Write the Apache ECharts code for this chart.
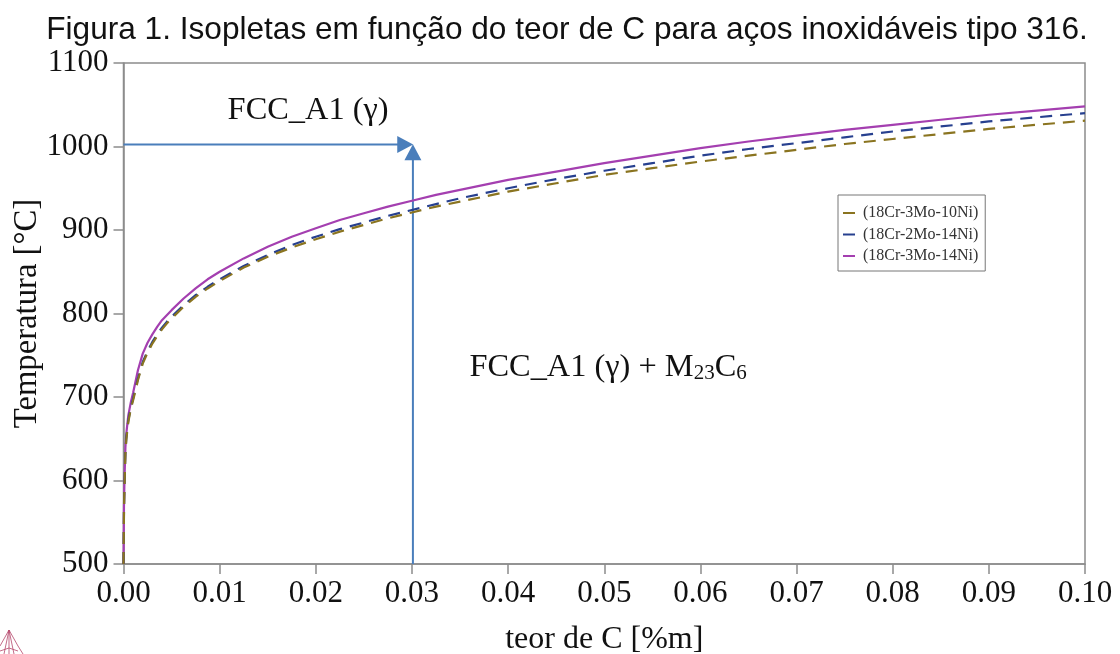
<!DOCTYPE html>
<html><head><meta charset="utf-8">
<style>html,body{margin:0;padding:0;background:#fff}#c{width:1120px;height:654px}</style>
<script src="https://cdn.jsdelivr.net/npm/echarts@6/dist/echarts.min.js"></script>
</head><body><div id="c"></div>
<script>
const carbon = [0,.00005,.0001,.0002,.0003,.0005,.00075,.001,.0015,.002,.0025,.003,.0035,.004,.0045,.005,.00625,.0075,.00875,.01,.0125,.015,.0175,.02,.0225,.025,.0275,.03,.0325,.035,.04,.045,.05,.055,.06,.065,.07,.075,.08,.085,.09,.095,.1];
const tempPurple = [500,570,600,640,657,678,693,705,732,752,765,775,784,792,798,804,818,830,841,850,866,880,892,902,912,920,928,935,942,948,960,970,980,989,998,1006,1013,1020,1026,1032,1038,1043,1048];
const tempBlue   = [500,565,595,635,652,672,687,698,722,742,755,766,775,783,790,796,810,822,832,841,857,870,882,892,901,909,917,924,931,938,950,961,971,980,989,997,1004,1011,1018,1024,1030,1035,1040];
const tempBronze = [500,562,592,632,650,670,685,696,720,740,753,764,773,781,788,794,808,820,830,839,855,868,879,889,898,906,914,921,928,934,946,956,966,974,982,989,996,1003,1009,1015,1021,1026,1031];
const nameBronze = '(18Cr-3Mo-10Ni)', nameBlue = '(18Cr-2Mo-14Ni)', namePurple = '(18Cr-3Mo-14Ni)';
const arrowH = [[0,1002.5],[0.0293,1002.5]];
const arrowV = [[0.0301,500],[0.0301,993]];
const xTicks = ['0.00','0.01','0.02','0.03','0.04','0.05','0.06','0.07','0.08','0.09','0.10'];
const zip = t => carbon.map((c,i)=>[c,t[i]]);
const serif = '"Liberation Serif"';
const gray = '#8c8c8c', arrowC = '#4a7ebb', logoC = '#b5476b', ink = '#111';

const arrow = (data, rot) => ({
  type:'line', data, silent:true, z:1, legendHoverLink:false,
  lineStyle:{color:arrowC,width:2}, itemStyle:{color:arrowC,opacity:1},
  showSymbol:true, showAllSymbols:true,
  symbol:(v,p)=>p.dataIndex===1?'triangle':'none', symbolSize:[17,16], symbolRotate:rot, animation:false
});
const curve = (name,t,color,dash,z) => ({
  type:'line', name, data:zip(t), showSymbol:false, symbol:'none', z, animation:false,
  smooth:false,
  lineStyle:{color,width:2.2,type:dash,join:'round'}, itemStyle:{color}
});
const note = (pos, text) => ({
  type:'scatter', data:[pos], symbolSize:0, silent:true, animation:false, z:6,
  itemStyle:{opacity:1},
  label:{show:true,position:'inside',opacity:1,formatter:text,color:ink,fontFamily:serif,fontSize:32.4,
    rich:{s:{fontFamily:serif,fontSize:21,color:ink,verticalAlign:'bottom',padding:[8,0,0,0]}}}
});
const logo = (pts)=>({type:'polyline',shape:{points:pts},style:{stroke:logoC,fill:null,lineWidth:1,opacity:.8},silent:true});

const chart = echarts.init(document.getElementById('c'));
chart.setOption({
  animation:false,
  backgroundColor:'#fff',
  title:{text:'Figura 1. Isopletas em função do teor de C para aços inoxidáveis tipo 316.',
    left:562,top:9,textAlign:'center',textStyle:{fontFamily:'"Liberation Sans"',fontSize:31.6,fontWeight:'normal',color:ink}},
  grid:{left:123.5,right:35,top:63,bottom:90,show:true,outerBoundsMode:'none',borderColor:gray,borderWidth:1.5,backgroundColor:'#fff'},
  legend:{orient:'vertical',left:838,top:195,data:[nameBronze,nameBlue,namePurple],
    backgroundColor:'#fff',borderColor:'#777',borderWidth:1,padding:[10,7,7,5],itemGap:5.5,itemWidth:12,itemHeight:2,
    icon:'rect',selectedMode:false,textStyle:{fontFamily:serif,fontSize:16,color:'#333',padding:[0,0,0,3]}},
  xAxis:{type:'value',min:0,max:0.1,interval:0.01,
    name:'teor de C [%m]',nameLocation:'middle',nameGap:60,nameMoveOverlap:false,
    nameTextStyle:{fontFamily:serif,fontSize:32,color:ink},
    axisLine:{lineStyle:{color:gray,width:1.5}},axisTick:{length:10,lineStyle:{color:gray,width:1.5}},
    splitLine:{show:false},
    axisLabel:{fontFamily:serif,fontSize:31,color:ink,margin:14,showMinLabel:true,showMaxLabel:true,
      formatter:(v)=>xTicks[Math.round(v*100)]}},
  yAxis:{type:'value',min:500,max:1100,interval:100,
    name:'Temperatura [°C]',nameLocation:'middle',nameGap:80,nameMoveOverlap:false,
    nameTextStyle:{fontFamily:serif,fontSize:32.7,color:ink},
    axisLine:{show:true,lineStyle:{color:gray,width:1.5}},axisTick:{show:true,length:10,lineStyle:{color:gray,width:1.5}},
    splitLine:{show:false},
    axisLabel:{fontFamily:serif,fontSize:31,color:ink,margin:15,formatter:(v)=>String(v)}},
  series:[
    arrow(arrowH,-90),
    arrow(arrowV,0),
    curve(namePurple,tempPurple,'#a43fb0','solid',3),
    curve(nameBlue,tempBlue,'#27408f',[12,8],4),
    curve(nameBronze,tempBronze,'#8a7420',[12,8],5),
    note([0.0192,1043],'FCC_A1 (γ)'),
    note([0.0504,735],'FCC_A1 (γ) + M{s|23}C{s|6}')
  ],
  graphic:[
    logo([[9,630],[0,646]]),logo([[9,630],[4,654]]),logo([[9,630],[9,654]]),
    logo([[9,630],[14,654]]),logo([[9,630],[18,646],[23,654]]),logo([[0,651],[9,648],[18,651]])
  ]
});
</script></body></html>
